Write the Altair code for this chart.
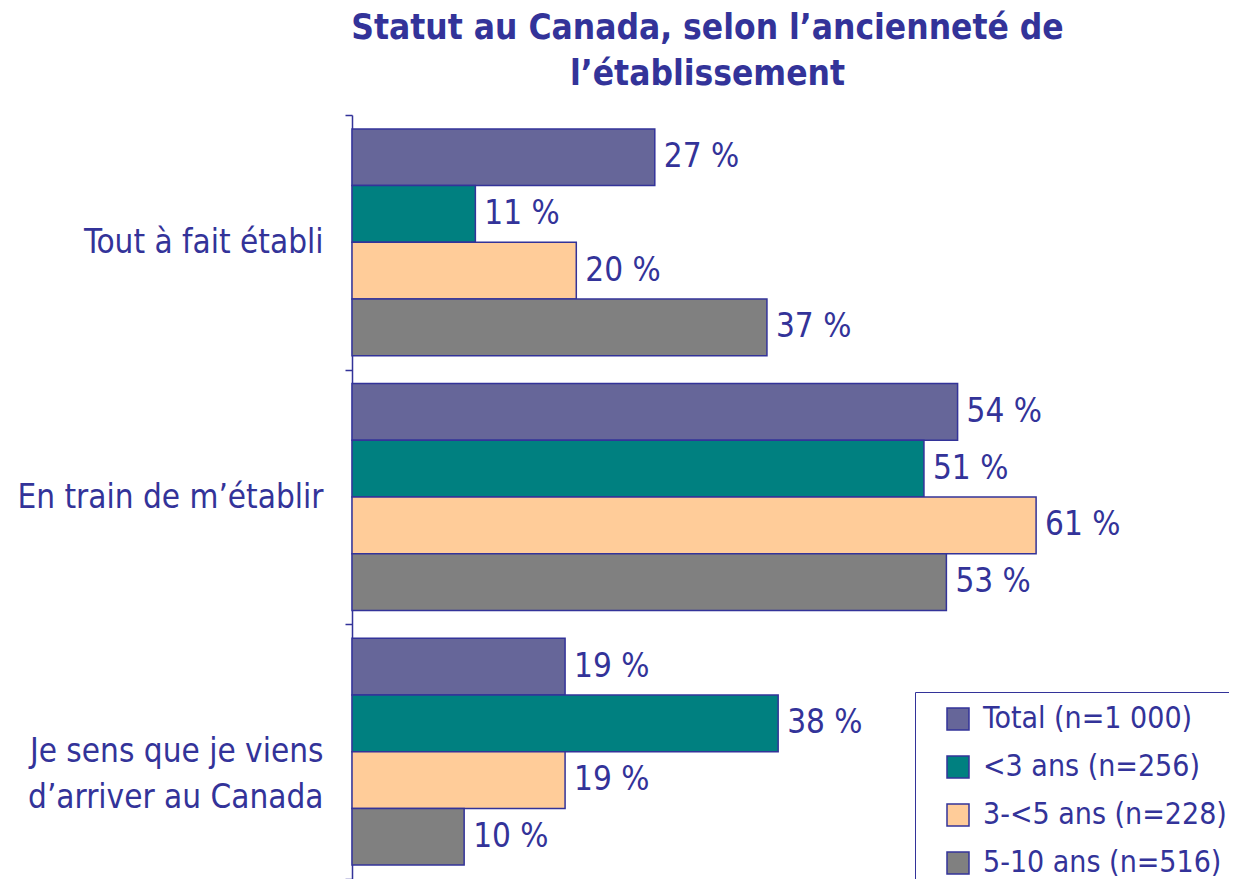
import altair as alt
import pandas as pd

categories = ["Tout à fait établi", "En train de m’établir", "Je sens que je viens\nd’arriver au Canada"]
series = ["Total (n=1 000)", "<3 ans (n=256)", "3-<5 ans (n=228)", "5-10 ans (n=516)"]
values = {
    "Total (n=1 000)": [27, 54, 19],
    "<3 ans (n=256)": [11, 51, 38],
    "3-<5 ans (n=228)": [20, 61, 19],
    "5-10 ans (n=516)": [37, 53, 10],
}
colors = ["#666699", "#008080", "#FFCC99", "#808080"]

rows = []
for s in series:
    for c, v in zip(categories, values[s]):
        rows.append({"cat": c, "series": s, "value": v, "label": f"{v} %"})
df = pd.DataFrame(rows)

FONT = "DejaVu Sans Condensed, sans-serif"
BLUE = "#333399"

y = alt.Y("cat:N", sort=categories, title=None,
          scale=alt.Scale(paddingInner=0, paddingOuter=0),
          axis=alt.Axis(labelExpr="split(datum.label, '\\n')", labelFont=FONT,
                        labelFontSize=33, labelColor=BLUE, labelPadding=22,
                        labelLineHeight=46, labelLimit=0,
                        tickBand="extent", tickSize=7, tickColor=BLUE, tickWidth=1.5,
                        domainColor=BLUE, domainWidth=1.5))
yoff = alt.YOffset("series:N", sort=series, scale=alt.Scale(paddingInner=0, paddingOuter=0.245))
x = alt.X("value:Q", scale=alt.Scale(domain=[0, 78.2]), axis=None)

bars = alt.Chart(df).mark_bar(stroke=BLUE, strokeWidth=1.5).encode(
    x=x, y=y, yOffset=yoff,
    color=alt.Color("series:N", sort=series,
                    scale=alt.Scale(domain=series, range=colors),
                    legend=alt.Legend(title=None, orient="none", legendX=563, legendY=577,
                                      symbolType="square", symbolSize=484,
                                      symbolStrokeColor=BLUE, symbolStrokeWidth=1.5,
                                      symbolOffset=16,
                                      labelFont=FONT, labelFontSize=30, labelColor=BLUE,
                                      labelLimit=0, rowPadding=18, padding=12,
                                      strokeColor=BLUE, fillColor="white",
                                      labelOffset=10)),
)

text = alt.Chart(df).mark_text(align="left", baseline="middle", dx=9, font=FONT,
                               fontSize=33, color=BLUE).encode(
    x=x, y=y, yOffset=yoff, text="label:N")

chart = (bars + text).properties(
    width=877, height=764,
    title=alt.TitleParams(text=["Statut au Canada, selon l’ancienneté de", "l’établissement"],
                          anchor="middle", dx=-83, offset=7, font=FONT, fontSize=35,
                          fontWeight="bold", color=BLUE, lineHeight=46),
    autosize=alt.AutoSizeParams(type="none"),
    padding={"left": 344, "top": 107, "right": 0, "bottom": 0},
).configure_view(stroke=None)

chart.save("out.html", embed_options={"renderer": "svg", "actions": False})
